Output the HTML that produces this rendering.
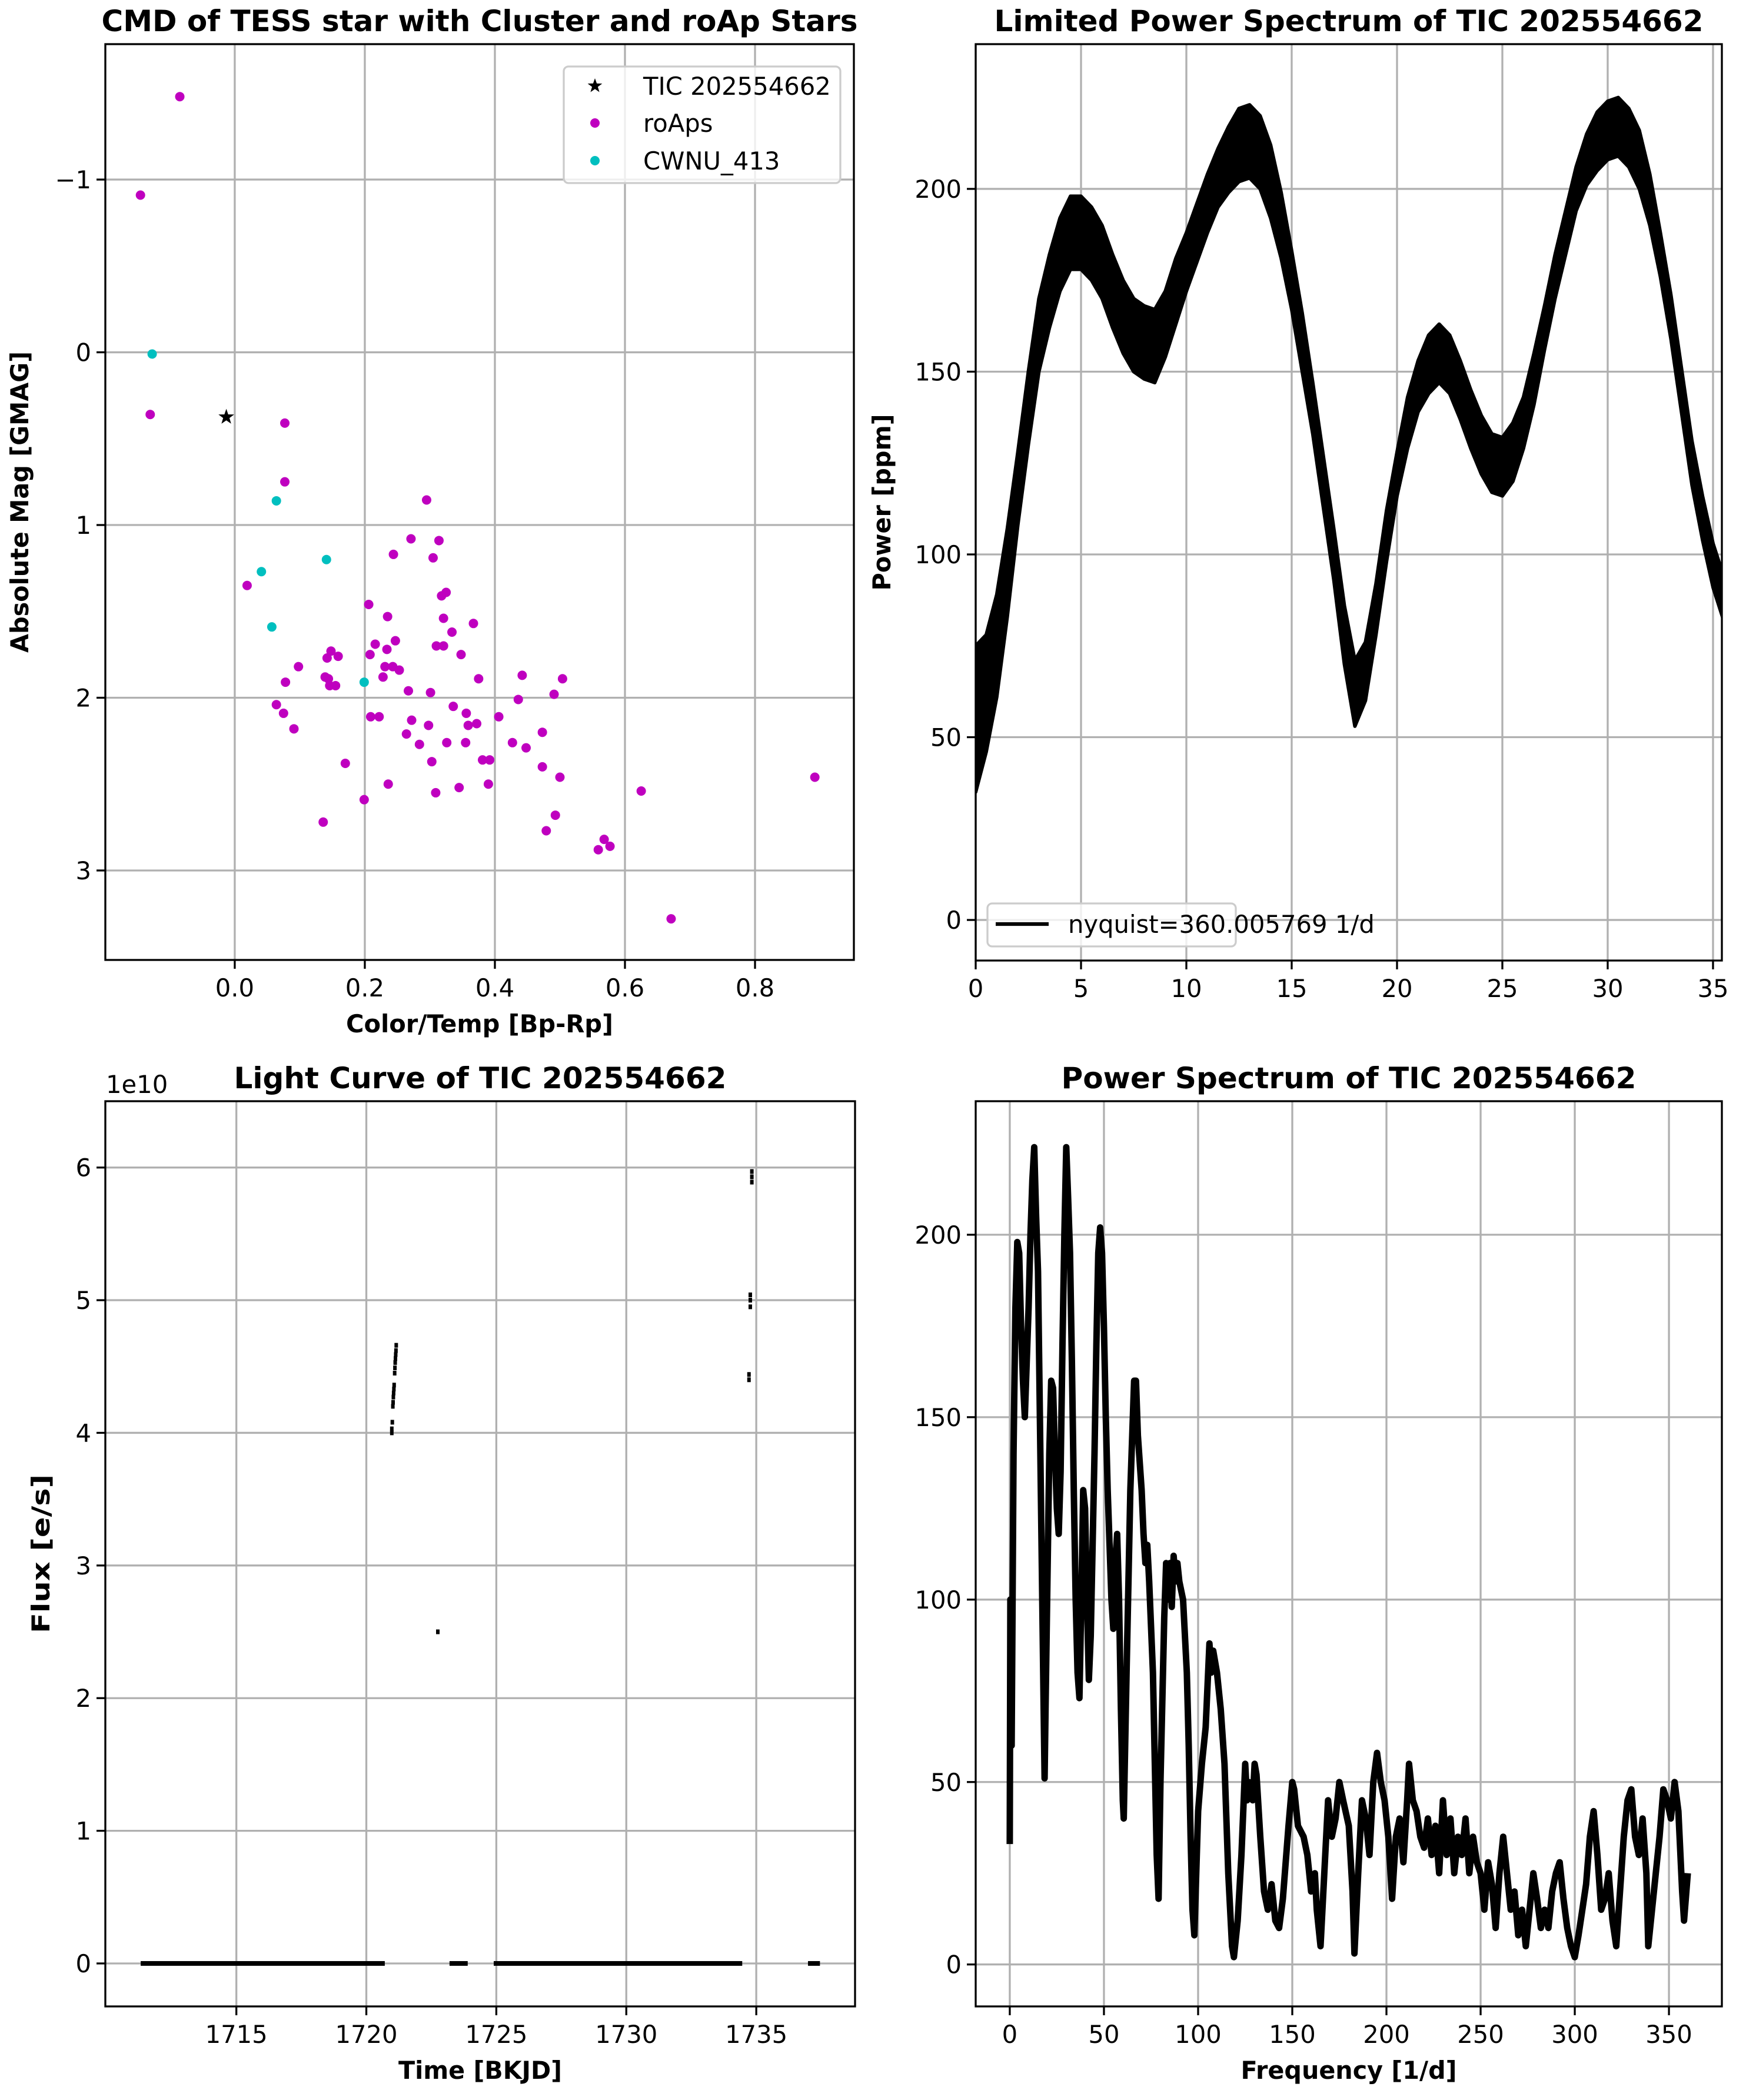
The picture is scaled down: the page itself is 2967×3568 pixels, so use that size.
<!DOCTYPE html>
<html><head><meta charset="utf-8"><style>
html,body{margin:0;padding:0;background:#fff}
svg{display:block}
text{font-family:"DejaVu Sans","Liberation Sans",sans-serif;fill:#000}
</style></head><body>
<svg id="fig" xmlns="http://www.w3.org/2000/svg" width="2967" height="3568" viewBox="0 0 2967 3568">
<rect x="0" y="0" width="2967" height="3568" fill="#fff"/>
</svg>
<script>
// ---------- CMD data ----------
const roapBpRp=[-0.0845,-0.145,-0.130,0.077,0.077,0.295,0.271,0.314,0.244,0.305,0.019,0.325,0.318,0.206,0.235,0.321,0.367,0.334,0.247,0.216,0.310,0.321,0.234,0.148,0.159,0.208,0.348,0.142,0.098,0.231,0.243,0.253,0.442,0.139,0.144,0.228,0.375,0.504,0.078,0.146,0.155,0.267,0.301,0.491,0.436,0.064,0.336,0.075,0.209,0.222,0.356,0.406,0.272,0.298,0.359,0.372,0.091,0.473,0.264,0.427,0.284,0.326,0.355,0.448,0.303,0.170,0.381,0.392,0.473,0.236,0.345,0.390,0.500,0.892,0.625,0.309,0.199,0.493,0.136,0.479,0.568,0.577,0.559,0.671];
const roapGmag=[-1.48,-0.91,0.36,0.41,0.75,0.855,1.08,1.09,1.17,1.19,1.35,1.39,1.41,1.46,1.53,1.54,1.57,1.62,1.67,1.69,1.70,1.70,1.72,1.73,1.76,1.75,1.75,1.77,1.82,1.82,1.82,1.84,1.87,1.88,1.89,1.88,1.89,1.89,1.91,1.93,1.93,1.96,1.97,1.98,2.01,2.04,2.05,2.09,2.11,2.11,2.09,2.11,2.13,2.16,2.16,2.15,2.18,2.20,2.21,2.26,2.27,2.26,2.26,2.29,2.37,2.38,2.36,2.36,2.40,2.50,2.52,2.50,2.46,2.46,2.54,2.55,2.59,2.68,2.72,2.77,2.82,2.86,2.88,3.28];
const clusterBpRp=[-0.127,0.064,0.141,0.041,0.057,0.199];
const clusterGmag=[0.01,0.86,1.20,1.27,1.59,1.91];
const ticBpRp=[-0.013];
const ticGmag=[0.375];
const cmdXTicks=[0.0,0.2,0.4,0.6,0.8];
const cmdXTickLabels=["0.0","0.2","0.4","0.6","0.8"];
const cmdYTicks=[-1,0,1,2,3];
const cmdYTickLabels=["\u22121","0","1","2","3"];

// ---------- Limited spectrum data (freq step 0.5) ----------
const limFreq=[0,0.5,1,1.5,2,2.5,3,3.5,4,4.5,5,5.5,6,6.5,7,7.5,8,8.5,9,9.5,10,10.5,11,11.5,12,12.5,13,13.5,14,14.5,15,15.5,16,16.5,17,17.5,18,18.5,19,19.5,20,20.5,21,21.5,22,22.5,23,23.5,24,24.5,25,25.5,26,26.5,27,27.5,28,28.5,29,29.5,30,30.5,31,31.5,32,32.5,33,33.5,34,34.5,35,35.5];
const limPower=[55,62,75,95,118,140,160,172,182,188,188,185,180,172,165,160,158,157,163,172,180,188,196,203,208,212,213,210,202,190,175,158,140,120,100,78,62,68,85,105,122,136,146,152,155,152,145,137,130,125,124,128,136,148,162,176,188,200,208,213,216,217,214,208,197,182,165,145,125,110,97,88];
const limSpread=[20,16,14,12,10,10,10,10,10,10,10,10,10,10,10,10,10,10,9,9,8,8,8,8,9,10,10,10,10,9,8,8,7,7,7,8,9,8,7,7,6,7,7,8,8,8,8,8,8,8,8,8,7,7,6,6,6,6,7,8,8,8,8,8,7,6,6,6,6,6,6,6];
const limXTicks=[0,5,10,15,20,25,30,35];
const limYTicks=[0,50,100,150,200];

// ---------- Light curve data ----------
const segStart=[1711.32,1723.2,1724.9,1736.99];
const segEnd=[1720.71,1723.9,1734.46,1737.45];
const outTime=[1720.98,1720.98,1721.00,1721.02,1721.03,1721.04,1721.05,1721.06,1721.07,1721.09,1721.10,1721.11,1721.12,1721.13,1721.14,1721.15,1722.75,1734.72,1734.72,1734.77,1734.77,1734.77,1734.83,1734.83,1734.83];
const outFlux=[4.00,4.03,4.08,4.20,4.23,4.27,4.30,4.33,4.36,4.45,4.49,4.53,4.56,4.59,4.62,4.66,2.50,4.40,4.44,4.95,5.00,5.04,5.89,5.93,5.97];
const lcXTicks=[1715,1720,1725,1730,1735];
const lcYTicks=[0,1,2,3,4,5,6];

// ---------- Full spectrum data ----------
const fullFreq=[0,0.3,1,2,3,4,5,6,7,8,9,10,11,12,13,14,15,16,17,18,18.5,19,20,21,22,23,24,25,26,27,28,29,30,31,32,33,34,35,36,37,38,39,40,41,42,43,44,45,46,47,48,49,50,51,52,53,54,55,56,57,58,59,60,60.5,62,64,66,67,68,70,71,72,73,74,76,78,79,80,82,83,84,85,86,87,88,89,90,92,94,95,96,97,98,99,100,102,104,106,107,108,110,112,114,116,118,119,121,123,125,126,127,129,130,131,133,135,137,139,141,143,145,148,150,151,153,156,158,160,162,163,165,167,169,171,173,175,177,180,182,183,185,187,189,191,193,195,197,199,201,203,205,207,209,211,212,214,216,218,220,222,224,226,228,230,232,234,236,238,240,242,244,246,248,250,252,254,256,258,260,262,264,266,268,270,272,274,276,278,280,282,284,286,288,290,292,294,296,298,300,302,304,306,308,310,312,314,316,318,320,322,324,326,328,330,332,334,336,338,339,341,343,345,347,349,351,353,355,357,358,360];
const fullPower=[33,100,60,140,180,198,195,175,160,150,165,180,200,215,224,205,190,150,110,70,51,70,105,140,160,158,140,125,118,135,170,200,224,210,195,165,130,100,80,73,100,130,125,100,78,90,115,140,170,195,202,195,175,150,130,115,100,92,110,118,100,70,45,40,80,130,160,160,145,130,118,110,115,105,80,30,18,50,95,110,100,110,98,112,105,110,105,100,80,60,35,15,8,25,42,55,65,88,80,86,80,70,55,25,5,2,12,30,55,45,50,45,55,52,35,20,15,22,12,10,18,38,50,48,38,35,30,20,25,15,5,25,45,35,40,50,45,38,20,3,25,45,40,30,50,58,50,45,35,18,35,40,28,45,55,45,42,35,32,40,30,38,25,45,30,40,25,35,30,40,25,35,28,25,15,28,22,10,25,35,25,15,20,8,15,5,15,25,18,10,15,10,20,25,28,18,10,5,2,8,15,22,35,42,30,15,18,25,12,5,20,35,45,48,35,30,40,25,5,15,25,35,48,45,40,50,42,20,12,25];
const fullXTicks=[0,50,100,150,200,250,300,350];
const fullYTicks=[0,50,100,150,200];

// ---------- rendering ----------
const NS="http://www.w3.org/2000/svg";
const svg=document.getElementById('fig');
function mk(tag,attrs,parent){const e=document.createElementNS(NS,tag);for(const k in attrs)e.setAttribute(k,attrs[k]);(parent||svg).appendChild(e);return e;}
function txt(s,attrs,parent){const e=mk('text',attrs,parent);e.textContent=s;return e;}

function makeAxes(name,box,xlim,ylim){
  const g=mk('g',{});
  
  
  const ax={g,box,xlim,ylim};
  ax.x=v=>box.l+(v-xlim[0])/(xlim[1]-xlim[0])*(box.r-box.l);
  ax.y=v=>box.b-(v-ylim[0])/(ylim[1]-ylim[0])*(box.b-box.t);
  return ax;
}
function gridTicks(ax,xt,xl,yt,yl){
  const {box,g}=ax;
  const gg=mk('g',{},g);
  
  
  xt.forEach((v,i)=>{const X=ax.x(v);
    mk('line',{x1:X,x2:X,y1:box.t,y2:box.b,stroke:'#b0b0b0','stroke-width':3.3},gg);
    const tk=mk('line',{x1:X,x2:X,y1:box.b,y2:box.b+15,stroke:'#000','stroke-width':3.3},g);
    
    
    const t=txt(xl[i],{x:X,y:box.b+62,'font-size':41.7,'text-anchor':'middle'},g);
    
    
  });
  yt.forEach((v,i)=>{const Y=ax.y(v);
    mk('line',{x1:box.l,x2:box.r,y1:Y,y2:Y,stroke:'#b0b0b0','stroke-width':3.3},gg);
    const tk=mk('line',{x1:box.l-15,x2:box.l,y1:Y,y2:Y,stroke:'#000','stroke-width':3.3},g);
    
    
    const t=txt(yl[i],{x:box.l-24,y:Y+15,'font-size':41.7,'text-anchor':'end'},g);
    
    
  });
}
function clip(ax,id){
  const cp=mk('clipPath',{id},ax.g);
  mk('rect',{x:ax.box.l,y:ax.box.t,width:ax.box.r-ax.box.l,height:ax.box.b-ax.box.t},cp);
  const g=mk('g',{'clip-path':'url(#'+id+')'},ax.g);
  
  
  return g;
}
function frame(ax){
  const b=ax.box;
  const r=mk('rect',{x:b.l,y:b.t,width:b.r-b.l,height:b.b-b.t,fill:'none',stroke:'#000','stroke-width':3.3},ax.g);
  
  
}
function titles(ax,title,tl,xlabel,xl,ylabel,yll,ylx){
  const b=ax.box,cx=(b.l+b.r)/2,cy=(b.t+b.b)/2;
  const t=txt(title,{x:cx,y:b.t-22,'font-size':50,'font-weight':'bold','text-anchor':'middle',textLength:tl,lengthAdjust:'spacingAndGlyphs'},ax.g);
  
  
  if(xlabel){const x=txt(xlabel,{x:cx,y:b.b+123,'font-size':41.7,'font-weight':'bold','text-anchor':'middle',textLength:xl,lengthAdjust:'spacingAndGlyphs'},ax.g);
    
    }
  if(ylabel){const y=txt(ylabel,{x:ylx,y:cy,'font-size':41.7,'font-weight':'bold','text-anchor':'middle',textLength:yll,lengthAdjust:'spacingAndGlyphs',transform:`rotate(-90 ${ylx} ${cy})`},ax.g);
    
    }
}
function starPts(cx,cy,R){let p=[];for(let i=0;i<10;i++){const a=-Math.PI/2+i*Math.PI/5;const r=i%2?R*0.4:R;p.push((cx+r*Math.cos(a)).toFixed(1)+','+(cy+r*Math.sin(a)).toFixed(1));}return p.join(' ');}

// ---- CMD ----
{
const ax=makeAxes('cmd-chart',{l:179,r:1451,t:75,b:1631},[-0.199,0.952],[3.518,-1.784]);
gridTicks(ax,cmdXTicks,cmdXTickLabels,cmdYTicks,cmdYTickLabels);
const pa=clip(ax,'c1');
roapBpRp.forEach((v,i)=>{const c=mk('circle',{cx:ax.x(v),cy:ax.y(roapGmag[i]),r:8,fill:'#bf00bf'},pa);
  
  });
clusterBpRp.forEach((v,i)=>{const c=mk('circle',{cx:ax.x(v),cy:ax.y(clusterGmag[i]),r:8,fill:'#00bfbf'},pa);
  
  });
ticBpRp.forEach((v,i)=>{const s=mk('polygon',{points:starPts(ax.x(v),ax.y(ticGmag[i]),14),fill:'#000'},pa);
  
  });
frame(ax);
titles(ax,'CMD of TESS star with Cluster and roAp Stars',1285,'Color/Temp [Bp-Rp]',454,'Absolute Mag [GMAG]',512,48);
const lg=mk('g',{},ax.g);


mk('rect',{x:958,y:113,width:470,height:198,rx:8,fill:'#fff','fill-opacity':0.8,stroke:'#ccc','stroke-width':3.3},lg);
mk('polygon',{points:starPts(1011,146,13),fill:'#000'},lg);
mk('circle',{cx:1011,cy:209,r:8,fill:'#bf00bf'},lg);
mk('circle',{cx:1011,cy:273,r:8,fill:'#00bfbf'},lg);
const e1=txt('TIC 202554662',{x:1093,y:161,'font-size':41.7},lg);


const e2=txt('roAps',{x:1093,y:224,'font-size':41.7},lg);


const e3=txt('CWNU_413',{x:1093,y:288,'font-size':41.7},lg);


}
// ---- Limited spectrum ----
{
const ax=makeAxes('limited-spectrum-chart',{l:1658,r:2926,t:75,b:1632},[0,35.42],[-11.1,239.6]);
gridTicks(ax,limXTicks,limXTicks.map(String),limYTicks,limYTicks.map(String));
const pa=clip(ax,'c2');
let up=[],dn=[];
limFreq.forEach((f,i)=>{up.push(ax.x(f).toFixed(1)+','+ax.y(limPower[i]+limSpread[i]).toFixed(1));dn.unshift(ax.x(f).toFixed(1)+','+ax.y(limPower[i]-limSpread[i]).toFixed(1));});
const band=mk('polygon',{points:up.concat(dn).join(' '),fill:'#000',stroke:'#000','stroke-width':6,'stroke-linejoin':'round'},pa);


frame(ax);
titles(ax,'Limited Power Spectrum of TIC 202554662',1205,null,0,'Power [ppm]',300,1513);
const lg=mk('g',{},ax.g);


mk('rect',{x:1678,y:1535,width:422,height:73,rx:8,fill:'#fff','fill-opacity':0.8,stroke:'#ccc','stroke-width':3.3},lg);
mk('line',{x1:1692,x2:1782,y1:1570,y2:1570,stroke:'#000','stroke-width':6.25},lg);
const le=txt('nyquist=360.005769 1/d',{x:1815,y:1585,'font-size':41.7},lg);


}
// ---- Light curve ----
{
const ax=makeAxes('light-curve-chart',{l:179,r:1453,t:1871,b:3409},[1709.96,1738.8],[-0.324,6.50]);
gridTicks(ax,lcXTicks,lcXTicks.map(String),lcYTicks,lcYTicks.map(String));
const pa=clip(ax,'c3');
segStart.forEach((s,i)=>{const x1=ax.x(s),x2=ax.x(segEnd[i]),y=ax.y(0);
  const r=mk('rect',{x:x1,y:y-4,width:x2-x1,height:8,fill:'#000'},pa);
  
  });
outTime.forEach((t,i)=>{const X=ax.x(t),Y=ax.y(outFlux[i]);
  const r=mk('rect',{x:X-3,y:Y-4,width:6,height:8,fill:'#000'},pa);
  
  });
frame(ax);
titles(ax,'Light Curve of TIC 202554662',837,'Time [BKJD]',278,'Flux [e/s]',270,84);
const off=txt('1e10',{x:180,y:1857,'font-size':41.7},ax.g);


}
// ---- Full spectrum ----
{
const ax=makeAxes('power-spectrum-chart',{l:1658,r:2926,t:1871,b:3409},[-18.1,378.1],[-11.5,236.6]);
gridTicks(ax,fullXTicks,fullXTicks.map(String),fullYTicks,fullYTicks.map(String));
const pa=clip(ax,'c4');
const pts=fullFreq.map((f,i)=>ax.x(f).toFixed(1)+','+ax.y(fullPower[i]).toFixed(1)).join(' ');
const pl=mk('polyline',{points:pts,fill:'none',stroke:'#000','stroke-width':11,'stroke-linejoin':'round'},pa);


frame(ax);
titles(ax,'Power Spectrum of TIC 202554662',977,'Frequency [1/d]',367,null,0,0);
}
</script>
</body></html>
